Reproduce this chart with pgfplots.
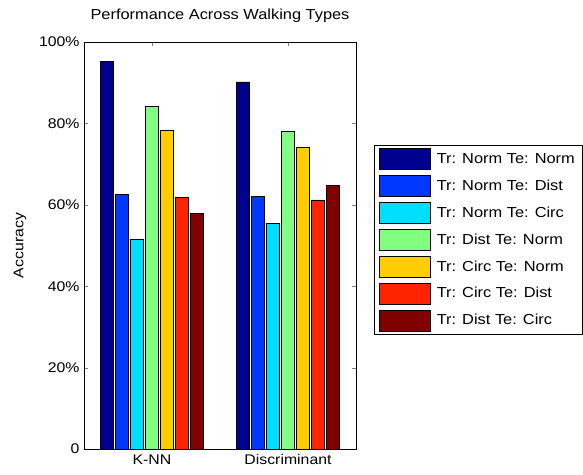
\documentclass[border=0pt]{standalone}
\usepackage{pgfplots}
\pgfplotsset{compat=1.18}
\usepackage{fontspec}
\setmainfont{Liberation Sans}[FakeStretch=1.13]

\definecolor{c1}{RGB}{0,0,143}
\definecolor{c2}{RGB}{0,56,255}
\definecolor{c3}{RGB}{0,222,255}
\definecolor{c4}{RGB}{128,255,128}
\definecolor{c5}{RGB}{255,205,0}
\definecolor{c6}{RGB}{255,36,0}
\definecolor{c7}{RGB}{128,0,0}

\begin{document}
\begin{tikzpicture}
\useasboundingbox (0,0) rectangle (583pt,474pt);
\begin{axis}[
  at={(84pt,25pt)}, anchor=south west,
  width=272pt, height=407pt, scale only axis,
  ybar=2pt, bar width=13pt,
  xmin=0.5, xmax=2.5, ymin=0, ymax=100,
  xtick={1,2}, xticklabels={K-NN,Discriminant},
  ytick={0,20,40,60,80,100},
  yticklabels={0,20\%,40\%,60\%,80\%,100\%},
  tick align=inside, major tick length=4pt,
  xtick pos=both, ytick pos=both,
  /pgf/number format/assume math mode=true,
  tick label style={font=\fontsize{14}{16}\selectfont},
  yticklabel style={xshift=-1pt},
  xticklabel style={yshift=-2pt},
  title={Performance Across Walking Types},
  title style={font=\fontsize{14.5}{16}\selectfont, at={(0.5,1)}, anchor=base, yshift=16pt},
  ylabel={Accuracy},
  ylabel style={font=\fontsize{14}{16}\selectfont, at={(axis description cs:-0.235,0.5)}, anchor=center},
  axis line style={black, line width=0.8pt},
  legend style={at={(1.066,0.747)}, anchor=north west, draw=black,
    font=\fontsize{14.5}{16}\selectfont, inner xsep=5pt, inner ysep=3pt,
    row sep=5.3pt, cells={anchor=west},
    /tikz/every odd column/.append style={column sep=4pt}},
  legend image code/.code={\draw[#1,draw=black,line width=0.6pt] (0pt,-10.5pt) rectangle (51pt,10.5pt);},
  every axis plot/.append style={draw=black, line width=0.6pt},
]
\addplot[fill=c1] coordinates {(1,95.2) (2,90.2)};
\addplot[fill=c2] coordinates {(1,62.5) (2,62.1)};
\addplot[fill=c3] coordinates {(1,51.6) (2,55.5)};
\addplot[fill=c4] coordinates {(1,84.2) (2,78.1)};
\addplot[fill=c5] coordinates {(1,78.4) (2,74.1)};
\addplot[fill=c6] coordinates {(1,61.9) (2,61.2)};
\addplot[fill=c7] coordinates {(1,57.8) (2,64.8)};
\legend{Tr: Norm Te: Norm, Tr: Norm Te: Dist, Tr: Norm Te: Circ, Tr: Dist Te: Norm, Tr: Circ Te: Norm, Tr: Circ Te: Dist, Tr: Dist Te: Circ}
\end{axis}
\end{tikzpicture}
\end{document}
